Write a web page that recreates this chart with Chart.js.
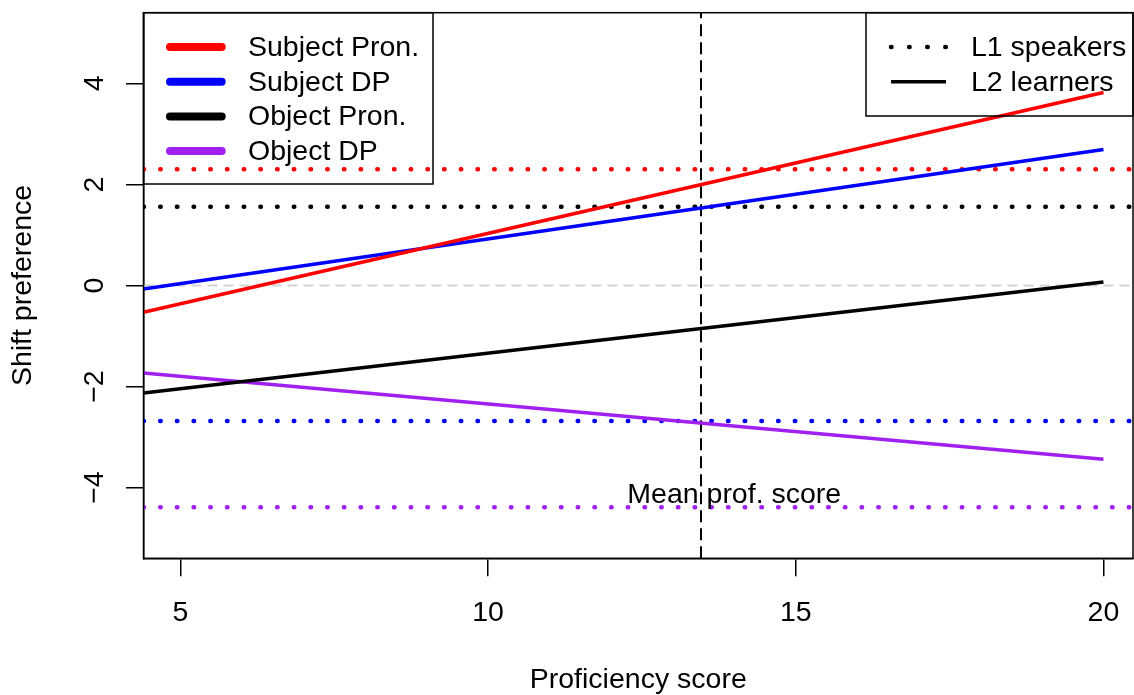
<!DOCTYPE html>
<html>
<head>
<meta charset="utf-8">
<script src="https://cdn.jsdelivr.net/npm/chart.js@4.4.0/dist/chart.umd.min.js"></script>
<style>
    body { margin: 0; background: #fff; }
</style>
</head>
<body>
<canvas id="shiftChart" width="1134" height="695"></canvas>
<script>
// axis limits and tick values
const xLimits = [4.4, 20.48];
const yLimits = [-5.4, 5.4];
const xTicks = [5, 10, 15, 20];
const yTicks = [-4, -2, 0, 2, 4];

// conditions (same order as the legend)
const conditions = ['Subject Pron.', 'Subject DP', 'Object Pron.', 'Object DP'];
const colors = ['#ff0000', '#0000ff', '#000000', '#a020f0'];

// L2 learners: fitted shift preference at the lowest and highest proficiency
const l2Prof = [4.4, 20];
const l2Low = [-0.53, -0.07, -2.13, -1.73];
const l2High = [3.82, 2.69, 0.07, -3.44];

// L1 speakers: mean shift preference
const l1Means = [2.30, -2.68, 1.56, -4.39];

// mean proficiency score of the learners
const meanProf = 13.46;
const meanLabel = 'Mean prof. score';
const meanLabelPos = [14.0, -4.3];

const groups = ['L1 speakers', 'L2 learners'];

const FONT = '"Liberation Sans", Arial, Helvetica, sans-serif';
const FONT_SIZE = 28.5;

function fmtTick(v) {
    // R prints a real minus sign
    return v < 0 ? '\u2212' + Math.abs(v) : String(v);
}

// build datasets
const datasets = [];
conditions.forEach((name, i) => {
    datasets.push({
        label: name + ' (L2)',
        data: [{ x: l2Prof[0], y: l2Low[i] }, { x: l2Prof[1], y: l2High[i] }],
        borderColor: colors[i],
        borderWidth: 3.5,
        order: 1
    });
});
conditions.forEach((name, i) => {
    datasets.push({
        label: name + ' (L1)',
        data: [{ x: xLimits[0], y: l1Means[i] }, { x: xLimits[1], y: l1Means[i] }],
        borderColor: colors[i],
        borderWidth: 4.5,
        borderDash: [0.5, 16.2],
        borderCapStyle: 'round',
        order: 2
    });
});
// zero reference line
datasets.push({
    label: 'zero',
    data: [{ x: xLimits[0], y: 0 }, { x: xLimits[1], y: 0 }],
    borderColor: '#d3d3d3',
    borderWidth: 2,
    borderDash: [10, 6],
    order: 5
});
// mean proficiency line
datasets.push({
    label: 'mean',
    data: [{ x: meanProf, y: yLimits[0] }, { x: meanProf, y: yLimits[1] }],
    borderColor: '#000000',
    borderWidth: 2,
    borderDash: [12, 6],
    order: 3
});

// box, rotated y labels, annotation and the two legends
const rPlotExtras = {
    id: 'rPlotExtras',
    afterDraw(chart) {
        const ctx = chart.ctx;
        const area = chart.chartArea;
        const xs = chart.scales.x;
        const ys = chart.scales.y;

        ctx.save();
        ctx.strokeStyle = '#000';
        ctx.lineWidth = 1.5;
        ctx.strokeRect(area.left, area.top, area.right - area.left, area.bottom - area.top);

        ctx.fillStyle = '#000';
        ctx.font = FONT_SIZE + 'px ' + FONT;

        // y tick labels, rotated like R's las=0
        yTicks.forEach(v => {
            ctx.save();
            ctx.translate(102.5, ys.getPixelForValue(v));
            ctx.rotate(-Math.PI / 2);
            ctx.textAlign = 'center';
            ctx.textBaseline = 'alphabetic';
            ctx.fillText(fmtTick(v), 0, 0);
            ctx.restore();
        });

        // annotation for the mean line
        ctx.textAlign = 'center';
        ctx.textBaseline = 'alphabetic';
        ctx.fillText(meanLabel, xs.getPixelForValue(meanLabelPos[0]), ys.getPixelForValue(meanLabelPos[1]));

        // legend for conditions (top left)
        const rowH = 34.7;
        ctx.lineWidth = 1.5;
        ctx.strokeRect(area.left, area.top, 433 - area.left, 184 - area.top);
        ctx.textAlign = 'left';
        ctx.textBaseline = 'middle';
        conditions.forEach((name, i) => {
            const y = area.top + 34.3 + i * rowH;
            ctx.beginPath();
            ctx.lineCap = 'round';
            ctx.lineWidth = 8;
            ctx.strokeStyle = colors[i];
            ctx.moveTo(170, y);
            ctx.lineTo(221.7, y);
            ctx.stroke();
            ctx.fillText(name, 248, y + 1);
        });

        // legend for groups (top right)
        ctx.lineCap = 'butt';
        ctx.lineWidth = 1.5;
        ctx.strokeStyle = '#000';
        ctx.strokeRect(866, area.top, area.right - 866, 116 - area.top);
        groups.forEach((name, i) => {
            const y = area.top + 34.3 + i * rowH;
            ctx.beginPath();
            if (i === 0) {
                ctx.lineCap = 'round';
                ctx.lineWidth = 4.5;
                ctx.setLineDash([0.5, 17.6]);
            } else {
                ctx.lineCap = 'butt';
                ctx.lineWidth = 3.5;
                ctx.setLineDash([]);
            }
            ctx.moveTo(891, y);
            ctx.lineTo(946, y);
            ctx.stroke();
            ctx.setLineDash([]);
            ctx.fillText(name, 971, y + 1);
        });
        ctx.restore();
    }
};

new Chart(document.getElementById('shiftChart'), {
    type: 'scatter',
    data: { datasets: datasets },
    options: {
        responsive: false,
        animation: false,
        showLine: true,
        elements: {
            point: { radius: 0, hoverRadius: 0 },
            line: { tension: 0, fill: false }
        },
        layout: { padding: { top: 12.7, right: 1, left: 0, bottom: 0 } },
        plugins: {
            legend: { display: false },
            tooltip: { enabled: false }
        },
        scales: {
            x: {
                type: 'linear',
                min: xLimits[0],
                max: xLimits[1],
                afterBuildTicks: scale => { scale.ticks = xTicks.map(v => ({ value: v })); },
                afterFit: scale => {
                    scale.height = 136.7;
                    // labels fit inside the box, no extra margins
                    scale.paddingLeft = 0;
                    scale.paddingRight = 0;
                },
                grid: {
                    drawOnChartArea: false,
                    color: '#000',
                    lineWidth: 1.5,
                    tickLength: 18
                },
                border: { color: '#000', width: 1.5 },
                ticks: {
                    color: '#000',
                    font: { family: FONT, size: FONT_SIZE },
                    padding: 20,
                    maxRotation: 0
                },
                title: {
                    display: true,
                    text: 'Proficiency score',
                    color: '#000',
                    font: { family: FONT, size: FONT_SIZE, lineHeight: 1 },
                    padding: { top: 0, bottom: 1 }
                }
            },
            y: {
                type: 'linear',
                min: yLimits[0],
                max: yLimits[1],
                afterBuildTicks: scale => { scale.ticks = yTicks.map(v => ({ value: v })); },
                afterFit: scale => { scale.width = 143.5; },
                grid: {
                    drawOnChartArea: false,
                    color: '#000',
                    lineWidth: 1.5,
                    tickLength: 17.5
                },
                border: { color: '#000', width: 1.5 },
                ticks: { display: false },
                title: {
                    display: true,
                    text: 'Shift preference',
                    color: '#000',
                    font: { family: FONT, size: FONT_SIZE, lineHeight: 1 },
                    padding: { top: 9, bottom: 0 }
                }
            }
        }
    },
    plugins: [rPlotExtras]
});
</script>
</body>
</html>
